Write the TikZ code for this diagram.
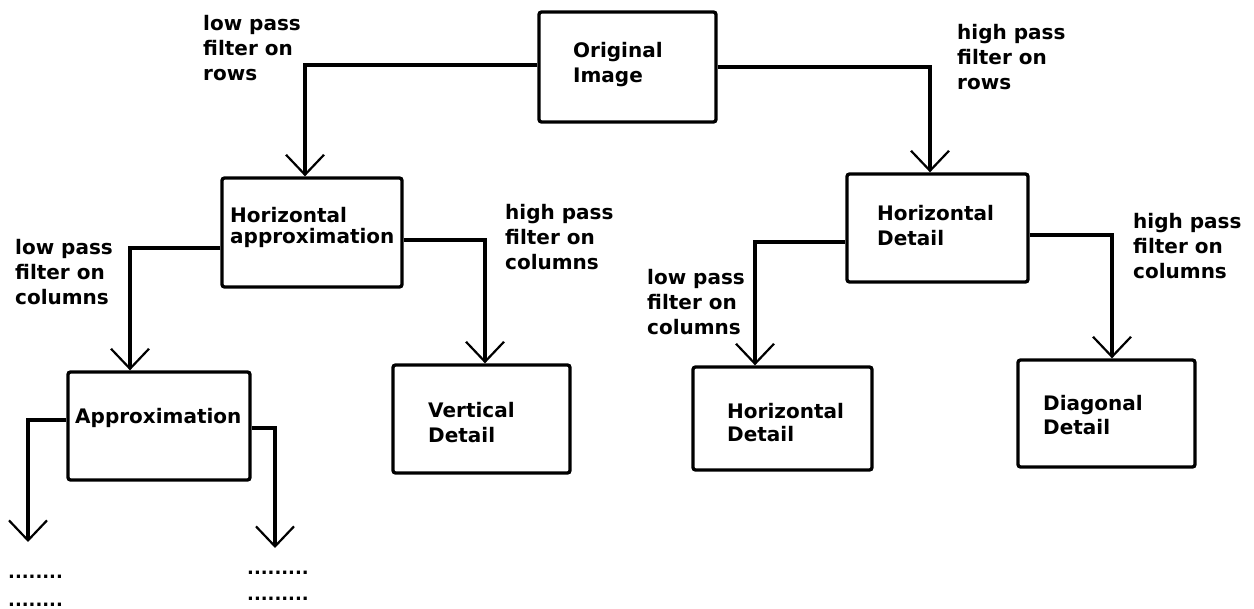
\documentclass[tikz,border=0pt]{standalone}
\usepackage{fontspec}
\setmainfont{DejaVu Sans}
\usetikzlibrary{arrows.meta}
\begin{document}
\begin{tikzpicture}[x=1pt,y=-1pt,
  box/.style={draw, line width=3.3pt, rounded corners=2.5pt, inner sep=0pt},
  txt/.style={anchor=north west, inner sep=0pt, align=left,
              font=\fontsize{20}{25}\selectfont\bfseries},
  tighttxt/.style={txt, font=\fontsize{20}{21}\selectfont\bfseries},
  dotrow/.style={anchor=base west, inner sep=0pt, font=\fontsize{18}{18}\selectfont\bfseries},
  conn/.style={line width=3.5pt, line join=miter,
               -{Straight Barb[length=20pt,width=38pt,line width=2.2pt]}}]

% page and white background
\fill[white] (0,0) rectangle (1254,609);
\useasboundingbox (0,0) rectangle (1254,609);

% boxes of the decomposition tree
\node[box, minimum width=177pt, minimum height=110pt] (orig) at (627.5,67)    {};
\node[box, minimum width=180pt, minimum height=109pt] (ha)   at (312,232.5)   {};
\node[box, minimum width=181pt, minimum height=108pt] (hd)   at (937.5,228)   {};
\node[box, minimum width=182pt, minimum height=108pt] (ap)   at (159,426)     {};
\node[box, minimum width=177pt, minimum height=108pt] (vd)   at (481.5,419)   {};
\node[box, minimum width=179pt, minimum height=103pt] (hdd)  at (782.5,418.5) {};
\node[box, minimum width=177pt, minimum height=107pt] (dd)   at (1106.5,413.5){};

% box captions
\node[txt]      (origT) at (573,42)  {Original\\Image};
\node[tighttxt] (haT)   at (230,207) {Horizontal\\approximation};
\node[txt]      (hdT)   at (877,205) {Horizontal\\Detail};
\node[txt]      (apT)   at (75,408)  {Approximation};
\node[txt]      (vdT)   at (428,402) {Vertical\\Detail};
\node[txt, font=\fontsize{20}{23}\selectfont\bfseries] (hddT) at (727,403) {Horizontal\\Detail};
\node[txt, font=\fontsize{20}{24}\selectfont\bfseries] (ddT)  at (1043,395) {Diagonal\\Detail};

% filter labels
\node[txt] (lblRowLow)  at (203,15)  {low pass\\filter on\\rows};
\node[txt] (lblRowHigh) at (957,24)  {high pass\\filter on\\rows};
\node[txt] (lblColLowA) at (15,239)  {low pass\\filter on\\columns};
\node[txt] (lblColHighA) at (505,204) {high pass\\filter on\\columns};
\node[txt] (lblColLowD) at (647,269) {low pass\\filter on\\columns};
\node[txt] (lblColHighD) at (1133,213) {high pass\\filter on\\columns};

% continuation rows below the approximation
\node[dotrow] (dotsL1) at (8,578)   {........};
\node[dotrow] (dotsL2) at (8,606)   {........};
\node[dotrow] (dotsR1) at (247,575) {.........};
\node[dotrow] (dotsR2) at (247,600) {.........};
\coordinate (apL) at (28,542);
\coordinate (apR) at (275,548);

% connectors
\draw[conn] ([yshift=2pt]orig.west)   -| ([xshift=-7pt]ha.north);
\draw[conn] (orig.east)               -| ([xshift=-7.5pt]hd.north);
\draw[conn] ([yshift=-15.5pt]ha.west) -| ([xshift=-29pt]ap.north);
\draw[conn] ([yshift=-7.5pt]ha.east)  -| ([xshift=3.5pt]vd.north);
\draw[conn] ([yshift=-14pt]hd.west)   -| ([xshift=-27.5pt]hdd.north);
\draw[conn] ([yshift=-7pt]hd.east)    -| ([xshift=5.5pt]dd.north);
\draw[conn] ([yshift=6pt]ap.west)     -| (apL);
\draw[conn] ([yshift=-2pt]ap.east)    -| (apR);
\end{tikzpicture}
\end{document}
